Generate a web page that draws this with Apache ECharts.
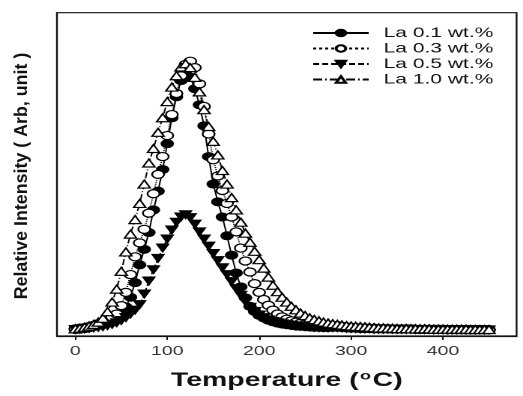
<!DOCTYPE html>
<html><head><meta charset="utf-8">
<script src="https://cdn.jsdelivr.net/npm/echarts@6/dist/echarts.min.js"></script>
<style>html,body{margin:0;padding:0;background:#fff;overflow:hidden;width:523px;height:396px}
#wrap{position:absolute;left:0;top:0;width:349px;height:396px;transform:scaleX(1.4986);transform-origin:0 0}
#c{width:349px;height:396px}</style>
</head><body><div id="wrap"><div id="c"></div></div>
<script>
var temps = [0,5,10,15,20,25,30,35,40,45,50,55,60,65,70,75,80,85,90,95,100,105,110,115,120,125,130,135,140,145,150,155,160,165,170,175,180,185,190,195,200,205,210,215,220,225,230,235,240,245,250,255,260,265,270,275,280,285,290,295,300,305,310,315,320,325,330,335,340,345,350,355,360,365,370,375,380,385,390,395,400,405,410,415,420,425,430,435,440,445,450];
var la01 = [.020,.021,.023,.026,.030,.034,.039,.044,.050,.058,.070,.090,.120,.165,.220,.268,.320,.390,.448,.515,.595,.675,.740,.790,.810,.800,.765,.715,.650,.555,.470,.415,.368,.310,.250,.195,.152,.118,.092,.076,.064,.056,.049,.044,.040,.037,.035,.033,.031,.030,.029,.028,.027,.027,.026,.026,.027,.027,.026,.025,.024,.024,.023,.023,.023,.022,.022,.022,.022,.021,.021,.021,.021,.021,.020,.020,.020,.020,.020,.020,.020,.019,.019,.019,.019,.019,.019,.019,.019,.019,.019];
var la03 = [.022,.024,.026,.029,.033,.038,.044,.051,.059,.068,.094,.135,.190,.245,.288,.330,.380,.440,.500,.555,.620,.685,.750,.805,.840,.850,.830,.780,.710,.625,.545,.495,.450,.410,.368,.322,.272,.232,.198,.162,.135,.113,.095,.080,.068,.059,.052,.047,.043,.040,.037,.035,.033,.032,.031,.030,.031,.032,.030,.028,.027,.026,.025,.025,.024,.024,.023,.023,.023,.022,.022,.022,.022,.022,.021,.021,.021,.021,.021,.021,.021,.020,.020,.020,.020,.020,.020,.020,.020,.020,.020];
var la05 = [.020,.021,.022,.023,.025,.027,.029,.032,.036,.041,.048,.057,.068,.080,.097,.130,.170,.205,.240,.272,.300,.328,.352,.368,.375,.366,.346,.322,.300,.278,.255,.233,.211,.190,.168,.146,.126,.106,.089,.076,.065,.057,.050,.045,.041,.038,.035,.033,.031,.030,.029,.028,.027,.026,.026,.025,.026,.026,.025,.024,.023,.023,.022,.022,.022,.021,.021,.021,.021,.021,.020,.020,.020,.020,.020,.020,.020,.020,.019,.019,.019,.019,.019,.019,.019,.019,.019,.019,.019,.019,.019];
var la10 = [.022,.024,.027,.031,.036,.043,.055,.075,.105,.145,.200,.260,.315,.360,.410,.470,.535,.580,.630,.675,.725,.770,.805,.832,.842,.830,.800,.755,.700,.648,.602,.560,.512,.470,.428,.390,.352,.318,.290,.262,.236,.210,.182,.157,.137,.120,.105,.092,.081,.071,.063,.056,.051,.047,.043,.040,.038,.036,.034,.032,.031,.030,.029,.028,.027,.026,.025,.025,.024,.024,.023,.023,.023,.022,.022,.022,.022,.022,.021,.021,.021,.021,.021,.021,.021,.021,.020,.020,.020,.020,.020];
var seriesNames = ['La 0.1 wt.%','La 0.3 wt.%','La 0.5 wt.%','La 1.0 wt.%'];
var xTicks = [0,100,200,300,400];
var yTitle = 'Relative Intensity ( Arb, unit )';

function pairs(v){ return temps.map(function(t,i){ return [t, v[i]]; }); }

var chart = echarts.init(document.getElementById('c'), null, {devicePixelRatio: 2});
var base = {type:'line', smooth:false, symbolSize:8, z:2, animation:false};
chart.setOption({
  animation:false,
  backgroundColor:'#fff',
  grid:{left:38, right:4.3, top:12.7, bottom:60, show:true, borderColor:'#111', borderWidth:1.2, containLabel:false},
  legend:{orient:'vertical', left:203, top:21, itemWidth:37, itemHeight:8, itemGap:1.5,
    textStyle:{fontFamily:'Liberation Sans', fontSize:14, color:'#111', lineHeight:14, padding:[0,0,0,5]},
    data:seriesNames},
  graphic:[{type:'text', x:14.7, y:176, rotation:Math.PI/2, scaleX:1.55, scaleY:1,
    style:{text:yTitle, fontSize:11.5, fontWeight:'bold', fontFamily:'Liberation Sans', fill:'#111', textAlign:'center', textVerticalAlign:'middle', align:'center', verticalAlign:'middle'}}],
  xAxis:{type:'value', min:-20, max:480,
    axisLine:{show:true, onZero:false, lineStyle:{color:'#111', width:1.2}},
    axisTick:{show:true, inside:false, length:4, customValues:xTicks, lineStyle:{color:'#111'}},
    axisLabel:{customValues:xTicks, fontFamily:'Liberation Sans', fontSize:13, color:'#333', margin:9},
    splitLine:{show:false},
    name:'{a|Temperature (}{s|o}{a|C)}', nameLocation:'middle', nameGap:34,
    nameTextStyle:{rich:{
      a:{fontFamily:'Liberation Sans', fontWeight:'bold', fontSize:19, color:'#111', lineHeight:22},
      s:{fontFamily:'Liberation Sans', fontWeight:'bold', fontSize:12, color:'#111', verticalAlign:'top', lineHeight:22, padding:[0,1,6,1]}
    }}},
  yAxis:{type:'value', min:0, max:1, axisLine:{show:false, onZero:false}, axisTick:{show:false}, axisLabel:{show:false}, splitLine:{show:false}},
  series:[
    Object.assign({}, base, {name:seriesNames[0], data:pairs(la01), symbol:'circle',
      itemStyle:{color:'#000', borderColor:'#000', borderWidth:1}, lineStyle:{color:'#000', width:1, type:'solid'}}),
    Object.assign({}, base, {name:seriesNames[1], data:pairs(la03), symbol:'circle',
      itemStyle:{color:'#fff', borderColor:'#000', borderWidth:1.2}, lineStyle:{color:'#000', width:1, type:'dotted'}}),
    Object.assign({}, base, {name:seriesNames[2], data:pairs(la05), symbol:'triangle', symbolRotate:180,
      itemStyle:{color:'#000', borderColor:'#000', borderWidth:1}, lineStyle:{color:'#000', width:1, type:[4,2]}}),
    Object.assign({}, base, {name:seriesNames[3], data:pairs(la10), symbol:'triangle',
      itemStyle:{color:'#fff', borderColor:'#000', borderWidth:1.2}, lineStyle:{color:'#000', width:1, type:[6,2,1,2]}})
  ]
});
</script></body></html>
